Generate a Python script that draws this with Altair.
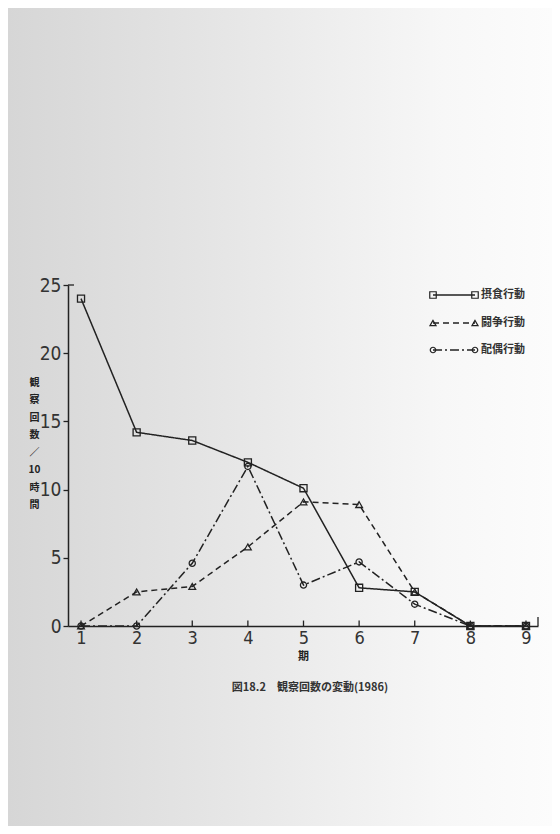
import altair as alt
import pandas as pd

# ---- data ----
periods = [1, 2, 3, 4, 5, 6, 7, 8, 9]
feeding = [24.0, 14.2, 13.6, 12.0, 10.1, 2.8, 2.5, 0.0, 0.0]
fighting = [0.0, 2.5, 2.9, 5.8, 9.1, 8.9, 2.5, 0.0, 0.0]
mating = [0.0, 0.0, 4.6, 11.7, 3.0, 4.7, 1.6, 0.0, 0.0]
series_names = ["摂食行動", "闘争行動", "配偶行動"]
x_ticks = [1, 2, 3, 4, 5, 6, 7, 8, 9]
y_ticks = [0, 5, 10, 15, 20, 25]
y_title = ["観", "察", "回", "数", "／", "10", "時", "間"]
x_title = "期"
caption = "図18.2　観察回数の変動(1986)"

# ---- layout / style ----
W, H = 470, 341
XDOM = [0.766, 9.216]
INK = "#222222"
NUM_FONT = "Liberation Sans Narrow, DejaVu Sans Condensed, sans-serif"
JP_FONT = "Noto Sans CJK JP"
shapes = ["square", "triangle-up", "circle"]
dashes = [[1, 0], [6, 4], [9, 3, 2, 3]]
sizes = [50, 45, 38]

rows = []
for name, vals in zip(series_names, [feeding, fighting, mating]):
    for p, v in zip(periods, vals):
        rows.append({"period": p, "value": v, "series": name})
df = pd.DataFrame(rows)

x_scale = alt.Scale(domain=XDOM, nice=False, zero=False)
y_scale = alt.Scale(domain=[0, 25], nice=False)
x_axis = alt.Axis(values=x_ticks, tickSize=0, labelPadding=3, labelFont=NUM_FONT,
                  labelFontSize=18, labelColor="#333333", grid=False, zindex=1,
                  domainColor=INK, domainWidth=1.5, title=x_title, titleFont=JP_FONT,
                  titleFontSize=11, titleFontWeight="bold", titlePadding=3, titleColor="#222222")
y_axis = alt.Axis(values=y_ticks, tickSize=5, tickColor=INK, tickWidth=1.3, labelPadding=2,
                  labelFont=NUM_FONT, labelFontSize=19, labelColor="#333333", grid=False,
                  zindex=1, domainColor=INK, domainWidth=1.5, title=y_title, titleAngle=0,
                  titleAlign="center", titleBaseline="top", titleX=-34, titleY=92,
                  titleLineHeight=17.5, titleFont=JP_FONT, titleFontSize=10,
                  titleFontWeight="bold", titleColor="#222222")
X = alt.X("period:Q", scale=x_scale, axis=x_axis)
Y = alt.Y("value:Q", scale=y_scale, axis=y_axis)

one = pd.DataFrame({"k": [0]})

# scanned-paper background
bg = alt.Chart(one).mark_rect(
    color=alt.LinearGradient(gradient="linear", x1=0, x2=1, y1=0, y2=0,
                             stops=[alt.GradientStop(offset=0, color="#d6d6d6"),
                                    alt.GradientStop(offset=0.45, color="#e8e8e8"),
                                    alt.GradientStop(offset=0.8, color="#f7f7f7"),
                                    alt.GradientStop(offset=1, color="#fcfcfc")])
).encode(x=alt.value(-60), x2=alt.value(W + 14), y=alt.value(-277), y2=alt.value(H + 200))

layers = [bg]

# upward x ticks
tick_df = pd.DataFrame({"period": x_ticks, "value": [0.0] * len(x_ticks),
                        "top": [0.4] * len(x_ticks)})
layers.append(alt.Chart(tick_df).mark_rule(color=INK, strokeWidth=1.3).encode(
    x=X, y=Y, y2="top:Q"))

for i, name in enumerate(series_names):
    sub = df[df.series == name]
    layers.append(alt.Chart(sub).mark_line(color=INK, strokeWidth=1.5,
                                           strokeDash=dashes[i]).encode(x=X, y=Y))
    layers.append(alt.Chart(sub).mark_point(shape=shapes[i], size=sizes[i], filled=False,
                                            color=INK, strokeWidth=1.3, opacity=1).encode(x=X, y=Y))

# axis end decorations
layers.append(alt.Chart(one).mark_rule(color=INK, strokeWidth=1.3).encode(
    x=alt.value(0), x2=alt.value(6), y=alt.value(0)))
layers.append(alt.Chart(one).mark_rule(color=INK, strokeWidth=1.3).encode(
    x=alt.value(W), y=alt.value(H), y2=alt.value(H - 9)))

# manual legend
leg_y = [10, 38, 65]
for i, name in enumerate(series_names):
    layers.append(alt.Chart(one).mark_rule(color=INK, strokeWidth=1.3, strokeDash=dashes[i]).encode(
        x=alt.value(365), x2=alt.value(407), y=alt.value(leg_y[i])))
    for px in (365, 407):
        layers.append(alt.Chart(one).mark_point(shape=shapes[i], size=sizes[i] - 8, filled=False,
                                                color=INK, strokeWidth=1.2, opacity=1).encode(
            x=alt.value(px), y=alt.value(leg_y[i])))
    layers.append(alt.Chart(pd.DataFrame({"t": [name]})).mark_text(
        font=JP_FONT, fontSize=11, fontWeight="bold", color="#333333", align="left",
        baseline="middle").encode(text="t:N", x=alt.value(413), y=alt.value(leg_y[i])))

# caption
layers.append(alt.Chart(pd.DataFrame({"t": [caption]})).mark_text(
    font=JP_FONT, fontSize=11, fontWeight="bold", color="#333333", align="center",
    baseline="middle").encode(text="t:N", x=alt.value(242), y=alt.value(403)))

chart = alt.layer(*layers).properties(
    width=W, height=H,
    autosize=alt.AutoSizeParams(type="none"),
    padding={"left": 60, "top": 277, "right": 14, "bottom": 200},
    background="#ececec",
).configure_view(stroke=None)

chart.save("out.html", embed_options={"renderer": "svg", "actions": False})
